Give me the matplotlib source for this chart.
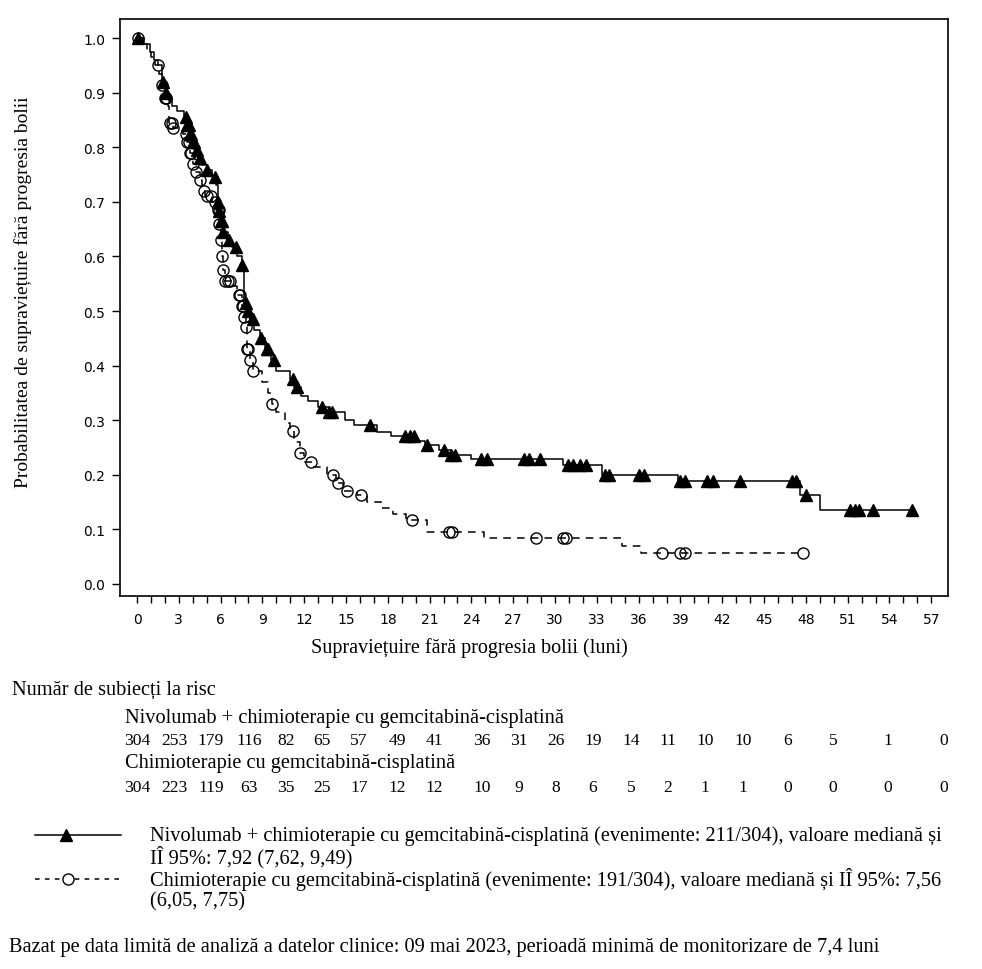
import numpy as np
import matplotlib
matplotlib.use("Agg")
import matplotlib.pyplot as plt
from matplotlib.lines import Line2D

# Kaplan-Meier steps (time in months, survival after the step)
nivo_t = [0, 0.5, 0.9, 1.2, 1.5, 1.8, 2.0, 2.3, 2.5, 2.9, 3.4, 3.6, 3.8, 4.0, 4.2, 4.4, 4.6,
          5.0, 5.4, 5.7, 5.8, 5.9, 6.0, 6.2, 6.5, 6.8, 7.2, 7.5, 7.7, 7.9, 8.1, 8.4, 8.8,
          9.2, 9.6, 10.0, 11.0, 11.3, 11.8, 12.3, 13.0, 13.8, 14.9, 15.6, 17.2, 18.2,
          20.0, 20.7, 21.7, 22.5, 24.0, 30.6, 33.4, 38.8, 47.6, 49.0]
nivo_s = [1.0, 0.99, 0.975, 0.96, 0.95, 0.92, 0.90, 0.885, 0.875, 0.867, 0.855, 0.84, 0.825,
          0.81, 0.795, 0.78, 0.768, 0.758, 0.745, 0.73, 0.70, 0.683, 0.665, 0.645, 0.63,
          0.617, 0.60, 0.585, 0.515, 0.50, 0.485, 0.465, 0.45, 0.43, 0.41, 0.39, 0.375,
          0.36, 0.345, 0.335, 0.325, 0.315, 0.30, 0.292, 0.278, 0.272, 0.262, 0.255,
          0.245, 0.237, 0.229, 0.218, 0.199, 0.188, 0.163, 0.135]
nivo_end = 55.8
nivo_cens = [0.05, 1.9, 2.1, 3.5, 3.6, 3.7, 3.8, 3.9, 4.0, 4.1, 4.3, 4.5, 5.0, 5.6, 5.8, 5.9,
             6.0, 6.1, 6.2, 6.6, 7.1, 7.5, 7.8, 8.0, 8.3, 8.9, 9.3, 9.4, 9.8, 11.2, 11.5,
             13.3, 13.8, 14.0, 16.7, 19.2, 19.6, 19.9, 20.8, 22.0, 22.5, 22.8, 24.7, 25.1,
             27.8, 28.1, 28.9, 30.9, 31.3, 31.8, 32.2, 33.6, 33.9, 36.0, 36.4, 39.0, 39.3,
             40.9, 41.3, 43.3, 47.0, 47.3, 48.0, 51.2, 51.5, 51.8, 52.8, 55.6]

chemo_t = [0, 0.4, 0.7, 1.0, 1.3, 1.6, 1.8, 2.0, 2.2, 2.3, 2.6, 3.3, 3.6, 3.8, 4.0, 4.2, 4.5,
           4.7, 4.9, 5.4, 5.7, 5.9, 6.0, 6.1, 6.2, 6.3, 6.9, 7.2, 7.5, 7.7, 7.8, 7.9, 8.1,
           8.3, 9.0, 9.4, 9.7, 10.0, 10.6, 11.0, 11.3, 11.7, 12.0, 12.6, 13.6, 14.3, 14.8,
           15.8, 16.5, 17.5, 18.4, 19.3, 20.8, 24.9, 34.8, 36.2]
chemo_s = [1.0, 0.99, 0.975, 0.965, 0.95, 0.935, 0.915, 0.89, 0.875, 0.845, 0.835, 0.825,
           0.81, 0.79, 0.77, 0.755, 0.74, 0.72, 0.71, 0.70, 0.685, 0.66, 0.63, 0.60, 0.575,
           0.555, 0.545, 0.53, 0.51, 0.49, 0.47, 0.43, 0.41, 0.39, 0.37, 0.35, 0.33, 0.315,
           0.295, 0.28, 0.26, 0.24, 0.224, 0.215, 0.20, 0.185, 0.17, 0.163, 0.15, 0.14,
           0.128, 0.117, 0.095, 0.085, 0.07, 0.056]
chemo_end = 47.8
chemo_cens = [0.05, 1.5, 1.8, 2.0, 2.05, 2.1, 2.4, 2.5, 2.6, 3.5, 3.6, 3.7, 3.8, 3.9, 4.0, 4.2,
              4.5, 4.8, 5.0, 5.3, 5.6, 5.8, 5.85, 5.9, 6.0, 6.1, 6.2, 6.3, 6.5, 6.7, 7.3, 7.4,
              7.5, 7.6, 7.7, 7.8, 7.9, 8.0, 8.1, 8.3, 9.7, 11.2, 11.7, 12.5, 14.1, 14.4, 15.1,
              16.1, 19.7, 22.4, 22.6, 28.6, 30.6, 30.8, 37.7, 39.0, 39.3, 47.8]

xtick_labels = list(range(0, 58, 3))
risk_nivo = [304, 253, 179, 116, 82, 65, 57, 49, 41, 36, 31, 26, 19, 14, 11, 10, 10, 6, 5, 1, 0]
risk_chemo = [304, 223, 119, 63, 35, 25, 17, 12, 12, 10, 9, 8, 6, 5, 2, 1, 1, 0, 0, 0, 0]

name_nivo = "Nivolumab + chimioterapie cu gemcitabină-cisplatină"
name_chemo = "Chimioterapie cu gemcitabină-cisplatină"

W, H = 982, 970
fig = plt.figure(figsize=(W / 100, H / 100), dpi=100)
serif = ["Liberation Serif", "DejaVu Serif"]
sans = ["DejaVu Sans"]
fs = 14.7


def fx(px):
    return px / W


def fy(py):
    return 1 - py / H


ax = fig.add_axes([fx(120), fy(597), fx(948) - fx(120), fy(20) - fy(597)])


def surv_at(times, surv, t):
    idx = np.searchsorted(times, t, side="right") - 1
    return np.asarray(surv)[idx]


# nivolumab arm
tt = np.append(nivo_t, nivo_end)
ss = np.append(nivo_s, nivo_s[-1])
ax.step(tt, ss, where="post", color="black", lw=1.1)
ax.plot(nivo_cens, surv_at(nivo_t, nivo_s, nivo_cens), linestyle="none", marker="^",
        ms=8.5, color="black", mec="black")

# chemo arm
tt = np.append(chemo_t, chemo_end)
ss = np.append(chemo_s, chemo_s[-1])
ax.step(tt, ss, where="post", color="black", lw=1.1, linestyle=(0, (5, 4)))
ax.plot(chemo_cens, surv_at(chemo_t, chemo_s, chemo_cens), linestyle="none", marker="o",
        ms=8, mfc="none", mec="black", mew=1.0)

ax.set_xlim(-1.22, 58.2)
ax.set_ylim(-0.022, 1.035)
ax.set_xticks(xtick_labels)
ax.set_xticks(np.arange(0, 58, 1), minor=True)
ax.set_yticks(np.arange(0, 1.01, 0.1))
ax.set_yticklabels([f"{v:.1f}" for v in np.arange(0, 1.01, 0.1)], family=sans, fontsize=10)
ax.set_xticklabels([str(v) for v in xtick_labels], family=sans, fontsize=10)
ax.tick_params(axis="both", which="both", direction="out", color="black", width=1.0)
ax.tick_params(axis="x", which="both", length=5.3, pad=6)
ax.tick_params(axis="y", length=5.8, pad=5)
for sp in ax.spines.values():
    sp.set_linewidth(1.2)

fig.text(fx(469), fy(648), "Supraviețuire fără progresia bolii (luni)", family=serif,
         fontsize=14.5, ha="center", va="center")
fig.text(fx(23), fy(292), "Probabilitatea de supraviețuire fără progresia bolii", family=serif,
         fontsize=14, ha="center", va="center", rotation=90)

# number at risk table
fig.text(fx(12), fy(690), "Număr de subiecți la risc", family=serif, fontsize=fs, va="center")
fig.text(fx(125), fy(718), name_nivo, family=serif, fontsize=fs, va="center")
fig.text(fx(125), fy(764), name_chemo, family=serif, fontsize=fs, va="center")
col_x = [137, 174, 211, 249, 286, 322, 359, 397, 434, 482, 519, 556, 593, 631, 668, 705, 743,
         788, 833, 888, 944]
for cx, a, b in zip(col_x, risk_nivo, risk_chemo):
    fig.text(fx(cx), fy(741), str(a), family=serif, fontsize=12.6, ha="center", va="center")
    fig.text(fx(cx), fy(788), str(b), family=serif, fontsize=12.6, ha="center", va="center")

# legend
fig.add_artist(Line2D([fx(35), fx(121)], [fy(836), fy(836)], color="black", lw=1.1,
                      transform=fig.transFigure))
fig.add_artist(Line2D([fx(66)], [fy(836)], marker="^", ms=8.5, color="black",
                      transform=fig.transFigure))
fig.add_artist(Line2D([fx(35), fx(121)], [fy(880), fy(880)], color="black", lw=1.1,
                      linestyle=(0, (3, 3.5)), transform=fig.transFigure))
fig.add_artist(Line2D([fx(68)], [fy(880)], marker="o", ms=8, mfc="white", mec="black",
                      transform=fig.transFigure))
fig.text(fx(150), fy(836), name_nivo + " (evenimente: 211/304), valoare mediană și",
         family=serif, fontsize=fs, va="center")
fig.text(fx(150), fy(857), "IÎ 95%: 7,92 (7,62, 9,49)", family=serif, fontsize=fs, va="center")
fig.text(fx(150), fy(880), name_chemo + " (evenimente: 191/304), valoare mediană și IÎ 95%: 7,56",
         family=serif, fontsize=fs, va="center")
fig.text(fx(150), fy(902), "(6,05, 7,75)", family=serif, fontsize=fs, va="center")

fig.text(fx(9), fy(948), "Bazat pe data limită de analiză a datelor clinice: 09 mai 2023, "
         "perioadă minimă de monitorizare de 7,4 luni", family=serif, fontsize=fs, va="center")

fig.savefig("out.png", dpi=100)
